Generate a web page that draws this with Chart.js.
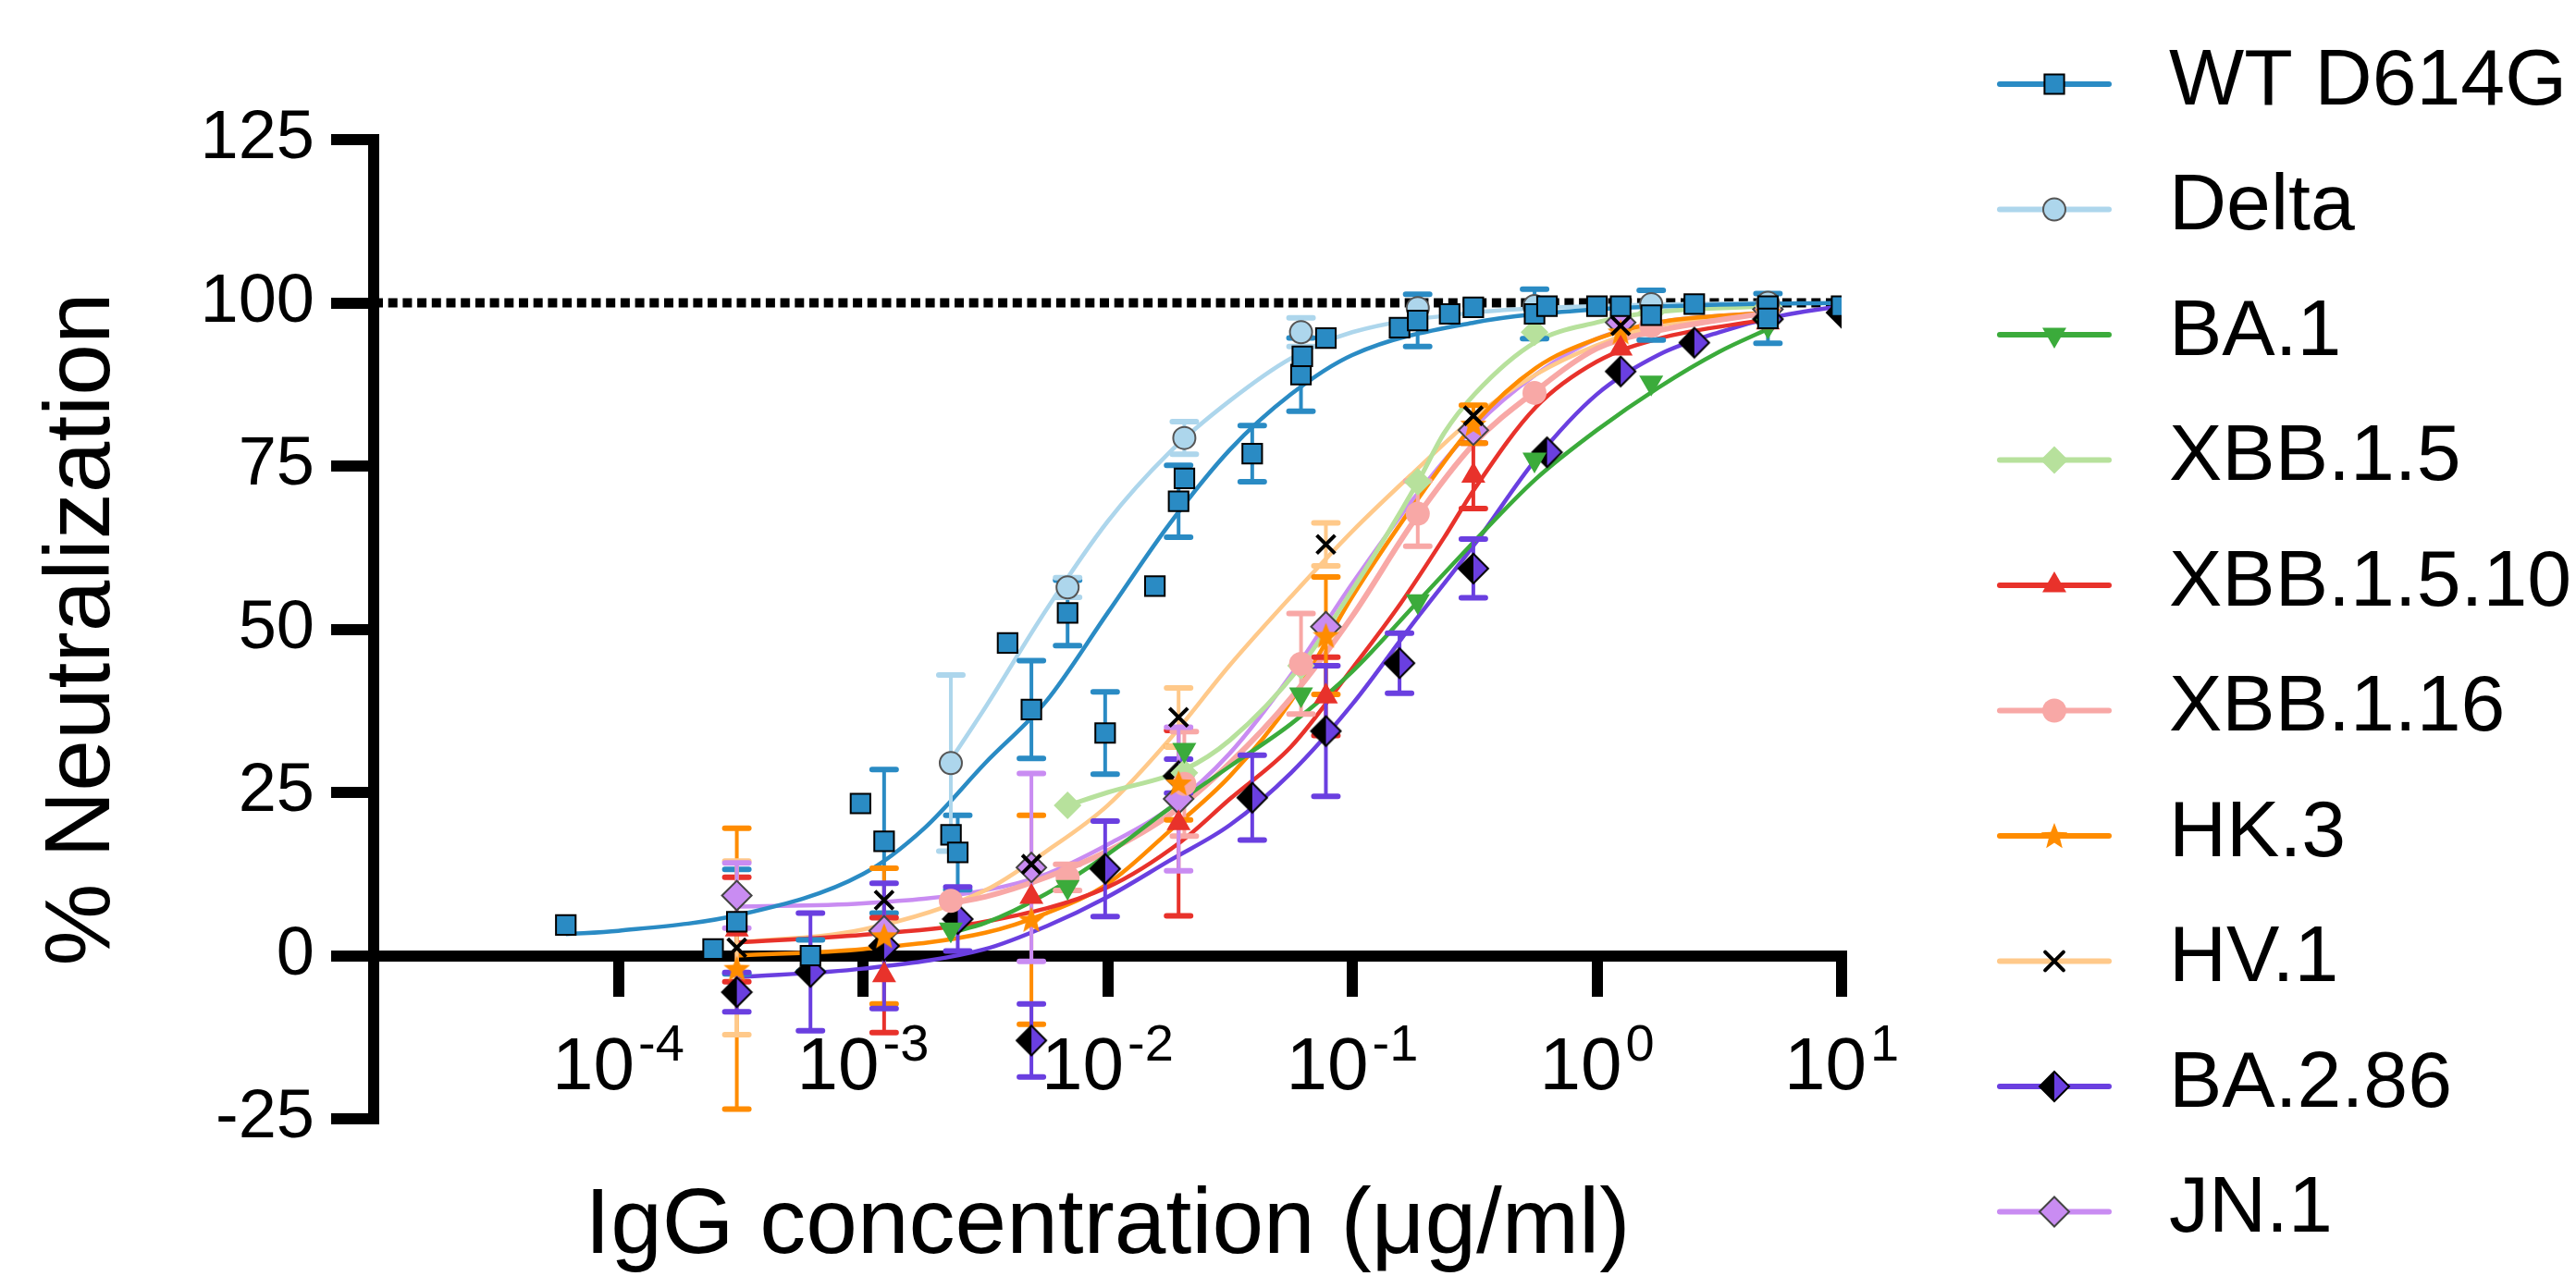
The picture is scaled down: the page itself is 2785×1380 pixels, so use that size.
<!DOCTYPE html>
<html><head><meta charset="utf-8">
<script src="https://cdn.jsdelivr.net/npm/chart.js@4.4.1/dist/chart.umd.min.js"></script>
<style>html,body{margin:0;padding:0;background:#fff}#wrap{width:2785px;height:1380px}</style>
</head><body><div id="wrap"><canvas id="c" width="2785" height="1380"></canvas></div>
<script>
const FONT = "'Liberation Sans', Arial, Helvetica, sans-serif";

// ---------- data ----------
const seriesNames = ['WT D614G','Delta','BA.1','XBB.1.5','XBB.1.5.10','XBB.1.16','HK.3','HV.1','BA.2.86','JN.1'];
const seriesColors = ['#2a8bc4','#add6ec','#3bab3b','#b7e19c','#e8322b','#f8a8a6','#ff8c00','#ffc98a','#6a3fe0','#c98cf2'];

const xTickValues = [0.0001, 0.001, 0.01, 0.1, 1, 10];
const xTickExponents = ['-4','-3','-2','-1','0','1'];
const yTickStep = 25;

const conc3 = [0.002286, 0.00686, 0.02058, 0.06173, 0.1852, 0.5556, 1.667, 5];
const conc4 = [0.000305, 0.00122, 0.00488, 0.0195, 0.078, 0.3125, 1.25, 5];
const conc2 = [0.000305, 0.00061, 0.00122, 0.00244, 0.00488, 0.00977, 0.0195, 0.039, 0.078, 0.156, 0.3125, 0.625, 1.25, 2.5, 5, 10];

const wtX   = [0.000061, 0.000244, 0.000305, 0.00061, 0.000977, 0.00122, 0.00229, 0.00244, 0.0039, 0.00488, 0.00686, 0.00977, 0.0156, 0.0195, 0.0206, 0.039, 0.0617, 0.0625, 0.078, 0.156, 0.185, 0.25, 0.3125, 0.556, 0.625, 1, 1.25, 1.667, 2.5, 5, 5, 10];
const wtY   = [4.7, 1.0, 5.2, 0.0, 23.3, 17.5, 18.5, 15.8, 47.9, 37.7, 52.5, 34.1, 56.6, 69.6, 73.1, 76.9, 89.0, 91.8, 94.6, 96.2, 97.3, 98.3, 99.3, 98.3, 99.5, 99.5, 99.5, 98.1, 99.8, 99.5, 97.6, 99.5];
const wtErr = [0, 0, 8, 2.4, 0, 11, 0, 5.7, 0, 7.5, 5, 6.3, 0, 5.5, 0, 4.3, 5.6, 0, 0, 0, 4, 0, 0, 3.8, 0, 0, 0, 3.8, 0, 0, 3.8, 0];

const deltaY   = [29.5, 56.4, 79.3, 95.5, 99.2, 99.5, 99.8, 100];
const deltaErr = [13.5, 1.5, 2.5, 2.2, 0, 0, 0, 0];

const ba1Y   = [4, 10.5, 31.5, 40, 54.3, 76, 87.8, 96.5];
const ba1Err = [0, 0, 0, 0, 0, 0, 0, 0];

const xbb15X   = [0.00686, 0.02058, 0.06173, 0.1852, 0.5556, 1.667, 5];
const xbb15Y   = [23, 28, 44.4, 72.6, 95.5, 98.5, 99.5];
const xbb15Err = [0, 0, 0, 0, 0, 0, 0];

const xbb1510Y   = [4, -3, 9, 20.3, 39.7, 73.5, 93, 97];
const xbb1510Err = [8, 8.8, 0, 14.2, 6, 5, 0, 0];

const xbb116Y   = [8.4, 12, 26.3, 44.7, 67.7, 86.2, 96.5, 99];
const xbb116Err = [0, 2, 8, 7.7, 5, 0, 0, 0];

const hk3Y   = [-2, 3, 5.5, 26.4, 49, 81.4, 95.5, 98.5];
const hk3Err = [21.5, 10.4, 16, 5.6, 9, 2.9, 0, 0];

const hv1Y   = [1.2, 8.5, 14, 36.5, 63, 82.7, 96.5, 99.3];
const hv1Err = [13.3, 0, 0, 4.5, 3.3, 0, 0, 0];

const ba286Y   = [-5.6, -2.5, 1.5, 5.6, -13, 13.3, 27.5, 24.2, 34.4, 44.8, 59.3, 77.1, 89.5, 93.9, 97.5, 98.5];
const ba286Err = [3, 9, 9.6, 4.9, 5.6, 7.3, 2.6, 6.5, 10, 4.6, 4.5, 0, 0, 0, 0, 0];

const jn1Y   = [9.2, 3.8, 13.5, 24, 50.4, 80.5, 97, 99];
const jn1Err = [5, 0, 14.4, 11, 0, 0, 0, 0];

// fitted curves
const wtCurveX = [0.000061, 0.0001, 0.000316, 0.001, 0.00178, 0.00316, 0.00562, 0.01, 0.0178, 0.0316, 0.0562, 0.1, 0.316, 1, 3.16, 10];
const wtCurveY = [3.3, 3.8, 6.3, 12.5, 19.5, 29.5, 39, 52.5, 66, 77.5, 86, 92, 97, 99, 99.7, 100];
const deltaCurveX = [0.002286, 0.00316, 0.00562, 0.01, 0.0178, 0.0316, 0.0562, 0.1, 0.316, 1, 5];
const deltaCurveY = [30, 38, 53, 66.5, 77, 85, 91.5, 95.5, 98.5, 99.5, 100];
const ba1CurveX = [0.002286, 0.00316, 0.00562, 0.01, 0.0178, 0.0316, 0.0562, 0.1, 0.178, 0.316, 0.562, 1, 1.78, 3.16, 5];
const ba1CurveY = [3.5, 5, 9.5, 15.5, 22.5, 29, 35.5, 43.5, 53.5, 63.5, 73, 80.5, 87, 92.5, 96];
const xbb15CurveX = [0.00686, 0.01, 0.0206, 0.0316, 0.0617, 0.1, 0.185, 0.237, 0.316, 0.562, 1, 1.667, 5];
const xbb15CurveY = [23, 25, 28.5, 33, 44.4, 56, 72.5, 80, 86, 94, 97, 98.5, 99.5];
const xbb1510CurveX = [0.000305, 0.001, 0.00316, 0.01, 0.02, 0.0316, 0.0562, 0.1, 0.158, 0.237, 0.316, 0.562, 1, 1.78, 5];
const xbb1510CurveY = [2, 3.2, 5.2, 10.5, 17.5, 24, 32, 44, 54, 64, 71.5, 84, 91, 94.5, 97.5];
const xbb116CurveX = [0.002286, 0.00316, 0.00562, 0.01, 0.0178, 0.0316, 0.0562, 0.1, 0.178, 0.316, 0.562, 1, 1.667, 5];
const xbb116CurveY = [8, 9, 12, 16, 21.5, 29.5, 39.5, 52, 66.5, 78.5, 86.5, 93, 95.5, 98.5];
const hk3CurveX = [0.000305, 0.001, 0.00316, 0.00562, 0.01, 0.0178, 0.0316, 0.0562, 0.1, 0.178, 0.316, 0.562, 1, 1.78, 5];
const hk3CurveY = [0, 1, 3.5, 6.5, 11, 19, 27.5, 39, 55, 69, 81.5, 90, 94.5, 97, 98.5];
const hv1CurveX = [0.000305, 0.001, 0.00316, 0.00562, 0.01, 0.0178, 0.0316, 0.0562, 0.1, 0.178, 0.316, 0.562, 1, 1.78, 5];
const hv1CurveY = [2, 4, 10, 16, 23, 33, 44.5, 55, 65, 74, 82.5, 89, 93.5, 96.5, 98.5];
const ba286CurveX = [0.000305, 0.001, 0.00316, 0.00562, 0.01, 0.0178, 0.0316, 0.0562, 0.1, 0.178, 0.316, 0.562, 1, 1.78, 3.16, 5.62, 10];
const ba286CurveY = [-3.3, -2, 1, 4.5, 9, 14.5, 20, 28, 38.5, 51, 63, 76, 86, 92, 95.5, 98, 99.5];
const jn1CurveX = [0.000305, 0.001, 0.00316, 0.00562, 0.01, 0.0178, 0.0316, 0.0562, 0.1, 0.178, 0.316, 0.562, 1, 1.78, 5];
const jn1CurveY = [7.5, 8, 10, 12.5, 17, 22.5, 31, 43, 57, 70, 81, 89, 94.5, 97, 98.5];

const refLineX = [0.00001, 10];
const refLineY = [100, 100];

// ---------- marker images ----------
function makeStar(color, R, r) {
  const s = Math.ceil(R * 2 + 4);
  const c = document.createElement('canvas'); c.width = c.height = s;
  const g = c.getContext('2d'); g.translate(s / 2, s / 2 + 1); g.beginPath();
  for (let k = 0; k < 10; k++) {
    const a = -Math.PI / 2 + k * Math.PI / 5; const rr = (k % 2) ? r : R;
    g.lineTo(rr * Math.cos(a), rr * Math.sin(a));
  }
  g.closePath(); g.fillStyle = color; g.fill();
  return c;
}
function makeHalfDiamond(R, leftCol, rightCol) {
  const s = Math.ceil(R * 2 + 4);
  const c = document.createElement('canvas'); c.width = c.height = s;
  const g = c.getContext('2d'); const m = s / 2;
  g.beginPath(); g.moveTo(m, m - R); g.lineTo(m, m + R); g.lineTo(m - R, m); g.closePath(); g.fillStyle = leftCol; g.fill();
  g.beginPath(); g.moveTo(m, m - R); g.lineTo(m + R, m); g.lineTo(m, m + R); g.closePath(); g.fillStyle = rightCol; g.fill();
  g.beginPath(); g.moveTo(m, m - R); g.lineTo(m + R, m); g.lineTo(m, m + R); g.lineTo(m - R, m); g.closePath();
  g.lineWidth = 2; g.strokeStyle = '#000'; g.stroke();
  return c;
}
const starImg = makeStar('#ff8c00', 15, 6.5);
const halfDiaImg = makeHalfDiamond(16, '#000000', '#6a3fe0');

const markers = [
  {style: 'rect', r: 15, rot: 0, fill: '#2a8bc4', border: '#000', bw: 2},
  {style: 'circle', r: 12, rot: 0, fill: '#add6ec', border: '#555', bw: 2},
  {style: 'triangle', r: 15, rot: 180, fill: '#3bab3b', border: '#3bab3b', bw: 0},
  {style: 'rectRot', r: 15, rot: 0, fill: '#b7e19c', border: '#b7e19c', bw: 0},
  {style: 'triangle', r: 15, rot: 0, fill: '#e8322b', border: '#e8322b', bw: 0},
  {style: 'circle', r: 13, rot: 0, fill: '#f8a8a6', border: '#f8a8a6', bw: 0},
  {style: starImg, r: 15, rot: 0, fill: '#ff8c00', border: '#ff8c00', bw: 0},
  {style: 'crossRot', r: 14, rot: 0, fill: '#000', border: '#000', bw: 4},
  {style: halfDiaImg, r: 16, rot: 0, fill: '#6a3fe0', border: '#000', bw: 0},
  {style: 'rectRot', r: 16, rot: 0, fill: '#c98cf2', border: '#444', bw: 2}
];

const pointSets = [
  [wtX, wtY, wtErr], [conc3, deltaY, deltaErr], [conc3, ba1Y, ba1Err], [xbb15X, xbb15Y, xbb15Err],
  [conc4, xbb1510Y, xbb1510Err], [conc3, xbb116Y, xbb116Err], [conc4, hk3Y, hk3Err],
  [conc4, hv1Y, hv1Err], [conc2, ba286Y, ba286Err], [conc4, jn1Y, jn1Err]
];
const curveSets = [
  [wtCurveX, wtCurveY], [deltaCurveX, deltaCurveY], [ba1CurveX, ba1CurveY], [xbb15CurveX, xbb15CurveY],
  [xbb1510CurveX, xbb1510CurveY], [xbb116CurveX, xbb116CurveY], [hk3CurveX, hk3CurveY],
  [hv1CurveX, hv1CurveY], [ba286CurveX, ba286CurveY], [jn1CurveX, jn1CurveY]
];
// draw order of markers (lower = on top)
const markerOrder = [1, 2, 5, 8, 4, 7, 6, 3, 9, 10];
const curveWidth = [4.5, 4.5, 4.5, 5, 4.5, 6, 4.5, 4.5, 4.5, 4.5];

const toPts = (xs, ys) => xs.map((x, i) => ({x: x, y: ys[i]}));

const datasets = [];
datasets.push({
  label: 'ref100', data: toPts(refLineX, refLineY), showLine: true, pointRadius: 0,
  borderColor: '#000', borderWidth: 10, borderDash: [10, 5.7], order: 200, fill: false
});
curveSets.forEach((c, i) => {
  datasets.push({
    label: seriesNames[i] + ' fit', data: toPts(c[0], c[1]), showLine: true, pointRadius: 0,
    borderColor: seriesColors[i], borderWidth: curveWidth[i], cubicInterpolationMode: 'monotone',
    fill: false, order: 100 + i
  });
});
pointSets.forEach((p, i) => {
  const m = markers[i];
  datasets.push({
    label: seriesNames[i], data: toPts(p[0], p[1]), errors: p[2], errColor: seriesColors[i],
    showLine: false, pointStyle: m.style, pointRadius: m.r, pointRotation: m.rot,
    backgroundColor: m.fill, borderColor: m.border, borderWidth: m.bw,
    order: markerOrder[i], drawErrBars: markerOrder[i] === 10
  });
});

// ---------- plugins ----------
function drawErrorBars(chart) {
  const ctx = chart.ctx, xs = chart.scales.x, ys = chart.scales.y;
  ctx.save();
  ctx.lineCap = 'round';
  chart.data.datasets.forEach(ds => {
    if (!ds.errors) return;
    ds.data.forEach((pt, j) => {
      const e = ds.errors[j];
      if (!e) return;
      const px = xs.getPixelForValue(pt.x);
      const yt = ys.getPixelForValue(pt.y + e), yb = ys.getPixelForValue(pt.y - e);
      ctx.strokeStyle = ds.errColor;
      ctx.lineWidth = 4;
      ctx.beginPath(); ctx.moveTo(px, yt); ctx.lineTo(px, yb); ctx.stroke();
      ctx.lineWidth = 6;
      ctx.beginPath(); ctx.moveTo(px - 13, yt); ctx.lineTo(px + 13, yt);
      ctx.moveTo(px - 13, yb); ctx.lineTo(px + 13, yb); ctx.stroke();
    });
  });
  ctx.restore();
}
const errPlugin = {
  id: 'errBars',
  beforeDatasetDraw(chart, args) {
    if (chart.data.datasets[args.index].drawErrBars) drawErrorBars(chart);
  }
};
const xLabelPlugin = {
  id: 'xLabels',
  beforeDatasetsDraw(chart) {
    const ctx = chart.ctx, xs = chart.scales.x, ys = chart.scales.y;
    const y0 = ys.getPixelForValue(0);
    ctx.save(); ctx.fillStyle = '#000'; ctx.textBaseline = 'alphabetic'; ctx.textAlign = 'left';
    xTickValues.forEach((v, i) => {
      const px = xs.getPixelForValue(v);
      ctx.font = '80px ' + FONT; const w1 = ctx.measureText('10').width;
      ctx.font = '56px ' + FONT; const w2 = ctx.measureText(xTickExponents[i]).width;
      const start = px - (w1 + w2 + 4) / 2;
      ctx.font = '80px ' + FONT; ctx.fillText('10', start, y0 + 144);
      ctx.font = '56px ' + FONT; ctx.fillText(xTickExponents[i], start + w1 + 4, y0 + 113);
    });
    ctx.restore();
  }
};
const legendPlugin = {
  id: 'sideLegend',
  afterDraw(chart) {
    const ctx = chart.ctx;
    ctx.save();
    seriesNames.forEach((name, i) => {
      const y = 91 + 135.5 * i;
      ctx.strokeStyle = seriesColors[i]; ctx.lineWidth = 6; ctx.lineCap = 'round';
      ctx.beginPath(); ctx.moveTo(2162, y); ctx.lineTo(2280, y); ctx.stroke();
      const m = markers[i];
      ctx.fillStyle = m.fill; ctx.strokeStyle = m.border; ctx.lineWidth = m.bw;
      Chart.helpers.drawPoint(ctx, {pointStyle: m.style, radius: m.r, rotation: m.rot, borderWidth: m.bw}, 2221, y);
      ctx.fillStyle = '#000'; ctx.font = '86px ' + FONT; ctx.textBaseline = 'middle'; ctx.textAlign = 'left';
      ctx.fillText(name, 2345, y - 2);
    });
    ctx.restore();
  }
};

Chart.defaults.font.family = FONT;
Chart.defaults.color = '#000';

new Chart(document.getElementById('c'), {
  type: 'scatter',
  data: {datasets: datasets},
  plugins: [errPlugin, xLabelPlugin, legendPlugin],
  options: {
    responsive: false, animation: false, devicePixelRatio: 1,
    layout: {padding: {left: 0, right: 794, top: 151, bottom: 170}},
    plugins: {legend: {display: false}, tooltip: {enabled: false}},
    scales: {
      x: {
        type: 'logarithmic', min: 0.00001, max: 10, position: {y: 0},
        afterBuildTicks: s => { s.ticks = xTickValues.map(v => ({value: v})); },
        afterFit: s => { s.height = 170; },
        ticks: {display: false},
        grid: {display: true, drawOnChartArea: false, drawTicks: true, tickLength: 38, lineWidth: 12, color: '#000'},
        border: {display: true, width: 12, color: '#000'},
        title: {display: true, text: 'IgG concentration (μg/ml)', color: '#000', font: {size: 100, family: FONT}, padding: {top: 0, bottom: -184}}
      },
      y: {
        type: 'linear', min: -25, max: 125, position: 'left',
        afterFit: s => { s.width = 404; },
        ticks: {stepSize: yTickStep, color: '#000', font: {size: 74, family: FONT}, padding: 18},
        grid: {display: true, drawOnChartArea: false, drawTicks: true, tickLength: 46, lineWidth: 12, color: '#000'},
        border: {display: true, width: 12, color: '#000'},
        title: {display: true, text: '% Neutralization', color: '#000', font: {size: 100, family: FONT}, padding: {top: 30, bottom: 0}}
      }
    }
  }
});
</script>
</body></html>
